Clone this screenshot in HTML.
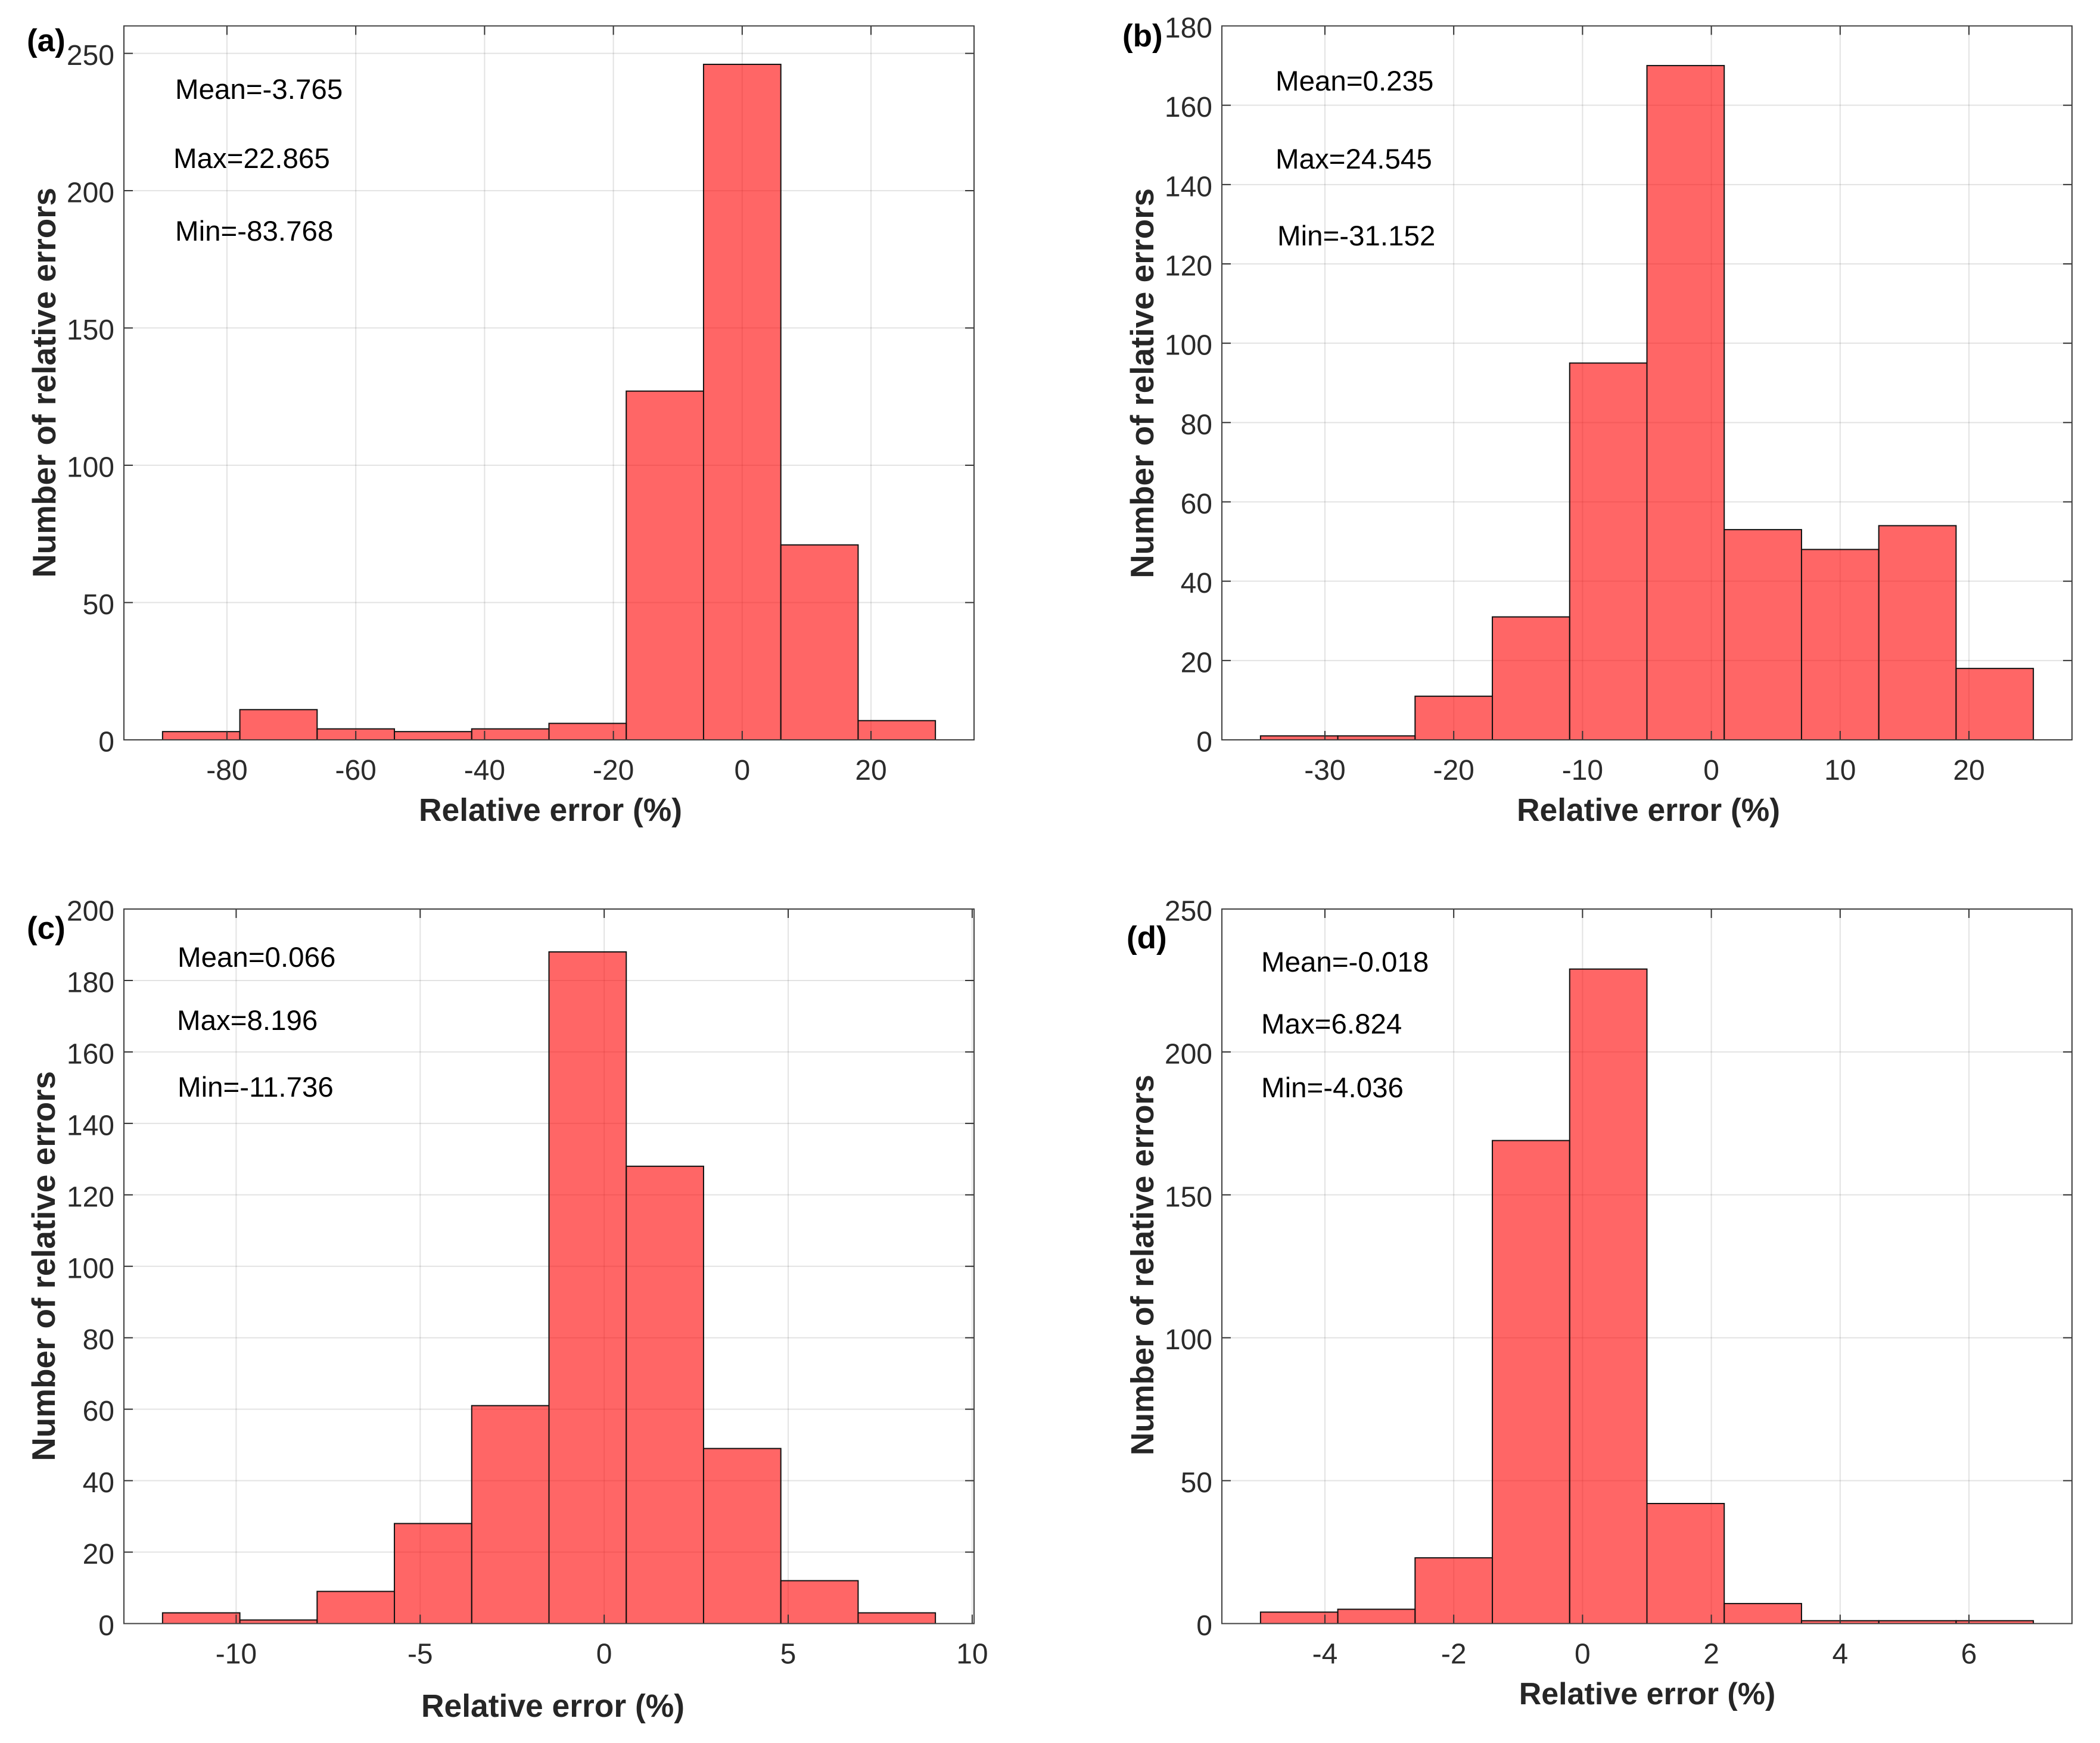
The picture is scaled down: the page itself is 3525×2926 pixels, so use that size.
<!DOCTYPE html>
<html lang="en">
<head>
<meta charset="utf-8">
<title>Histograms of relative errors</title>
<style>
  html, body { margin: 0; padding: 0; background: #fff; }
  #figure { display: block; width: 3525px; height: 2926px; font-family: "Liberation Sans", Arial, sans-serif; }
  .tick-label { font-size: 48px; fill: #2b2b2b; }
  .axis-title { font-size: 53.4px; font-weight: 700; fill: #262626; }
  .y-title { font-size: 54.8px; font-weight: 700; fill: #262626; text-anchor: end; }
  .stat { font-size: 47.5px; fill: #000; }
  .panel-label { font-size: 53px; font-weight: 700; fill: #000; }
</style>
</head>
<body>
<svg id="figure" xmlns="http://www.w3.org/2000/svg" width="3525" height="2926" viewBox="0 0 3525 2926">
  <rect x="0" y="0" width="3525" height="2926" fill="#ffffff"/>
  <g id="plots"></g>

  <text class="panel-label" x="45" y="86">(a)</text>
  <text class="stat" x="294" y="166">Mean=-3.765</text>
  <text class="stat" x="291" y="282">Max=22.865</text>
  <text class="stat" x="294" y="404">Min=-83.768</text>
  <text class="axis-title" x="924" y="1378" text-anchor="middle">Relative error (%)</text>
  <text class="y-title" transform="translate(93,315) rotate(-90)">Number of relative errors</text>

  <text class="panel-label" x="1884" y="78">(b)</text>
  <text class="stat" x="2141" y="152">Mean=0.235</text>
  <text class="stat" x="2141" y="283">Max=24.545</text>
  <text class="stat" x="2144" y="412">Min=-31.152</text>
  <text class="axis-title" x="2767" y="1378" text-anchor="middle">Relative error (%)</text>
  <text class="y-title" transform="translate(1936,316) rotate(-90)">Number of relative errors</text>

  <text class="panel-label" x="45" y="1576">(c)</text>
  <text class="stat" x="298" y="1623">Mean=0.066</text>
  <text class="stat" x="297" y="1729">Max=8.196</text>
  <text class="stat" x="298" y="1841">Min=-11.736</text>
  <text class="axis-title" x="928" y="2882" text-anchor="middle">Relative error (%)</text>
  <text class="y-title" transform="translate(92,1798) rotate(-90)">Number of relative errors</text>

  <text class="panel-label" x="1891" y="1592">(d)</text>
  <text class="stat" x="2117" y="1631">Mean=-0.018</text>
  <text class="stat" x="2117" y="1735">Max=6.824</text>
  <text class="stat" x="2117" y="1842">Min=-4.036</text>
  <text class="axis-title" style="font-size:52px" x="2765" y="2861" text-anchor="middle">Relative error (%)</text>
  <text class="y-title" style="font-size:53.5px" transform="translate(1936,1804) rotate(-90)">Number of relative errors</text>
</svg>
<script>
// Histogram counts per bin
const countsA = [3, 11, 4, 3, 4, 6, 127, 246, 71, 7];
const countsB = [1, 1, 11, 31, 95, 170, 53, 48, 54, 18];
const countsC = [3, 1, 9, 28, 61, 188, 128, 49, 12, 3];
const countsD = [4, 5, 23, 169, 229, 42, 7, 1, 1, 1];

// Bin edges: first edge and bin width, in percent
const binStartA = -90, binWidthA = 12;
const binStartB = -35, binWidthB = 6;
const binStartC = -12, binWidthC = 2.1;
const binStartD = -5, binWidthD = 1.2;

// Axis limits
const xLimA = [-96, 36];
const xLimB = [-38, 28];
const xLimC = [-13.05, 10.05];
const xLimD = [-5.6, 7.6];
const yLimA = [0, 260];
const yLimB = [0, 180];
const yLimC = [0, 200];
const yLimD = [0, 250];

// Tick labels
const xTicksA = [-80, -60, -40, -20, 0, 20];
const xTicksB = [-30, -20, -10, 0, 10, 20];
const xTicksC = [-10, -5, 0, 5, 10];
const xTicksD = [-4, -2, 0, 2, 4, 6];
const yTicksA = [0, 50, 100, 150, 200, 250];
const yTicksB = [0, 20, 40, 60, 80, 100, 120, 140, 160, 180];
const yTicksC = [0, 20, 40, 60, 80, 100, 120, 140, 160, 180, 200];
const yTicksD = [0, 50, 100, 150, 200, 250];

const SVG_NS = 'http://www.w3.org/2000/svg';
const TICK_LEN = 15;

function makeLine(parent, x1, y1, x2, y2, stroke, width) {
  const el = document.createElementNS(SVG_NS, 'line');
  el.setAttribute('x1', x1);
  el.setAttribute('y1', y1);
  el.setAttribute('x2', x2);
  el.setAttribute('y2', y2);
  el.setAttribute('stroke', stroke);
  el.setAttribute('stroke-width', width);
  parent.appendChild(el);
  return el;
}

function drawPanel(id, frame, counts, binStart, binWidth, xLim, yLim, xTicks, yTicks) {
  const root = document.getElementById('plots');
  const g = document.createElementNS(SVG_NS, 'g');
  
  
  root.appendChild(g);

  const xScale = v => frame.left + (v - xLim[0]) / (xLim[1] - xLim[0]) * (frame.right - frame.left);
  const yScale = v => frame.bottom - (v - yLim[0]) / (yLim[1] - yLim[0]) * (frame.bottom - frame.top);

  // Grid lines sit under the translucent bars
  xTicks.forEach(t => {
    const grid = makeLine(g, xScale(t), frame.top, xScale(t), frame.bottom, 'rgba(38,38,38,0.13)', 2);
    
    
  });
  yTicks.forEach(t => {
    const grid = makeLine(g, frame.left, yScale(t), frame.right, yScale(t), 'rgba(38,38,38,0.13)', 2);
    
    
  });

  // Bars
  counts.forEach((count, i) => {
    const x0 = xScale(binStart + i * binWidth);
    const x1 = xScale(binStart + (i + 1) * binWidth);
    const y0 = yScale(count);
    const bar = document.createElementNS(SVG_NS, 'rect');
    bar.setAttribute('x', x0);
    bar.setAttribute('y', y0);
    bar.setAttribute('width', x1 - x0);
    bar.setAttribute('height', yScale(0) - y0);
    bar.setAttribute('fill', 'rgba(255,0,0,0.6)');
    bar.setAttribute('stroke', '#111111');
    bar.setAttribute('stroke-width', 2);
    
    
    g.appendChild(bar);
  });

  // Ticks on all four sides (box on) and tick labels
  xTicks.forEach(t => {
    const x = xScale(t);
    const tickB = makeLine(g, x, frame.bottom, x, frame.bottom - TICK_LEN, '#333333', 2);
    
    
    const tickT = makeLine(g, x, frame.top, x, frame.top + TICK_LEN, '#333333', 2);
    
    
    const label = document.createElementNS(SVG_NS, 'text');
    label.setAttribute('class', 'tick-label');
    label.setAttribute('x', x);
    label.setAttribute('y', frame.bottom + 67);
    label.setAttribute('text-anchor', 'middle');
    
    
    label.textContent = t;
    g.appendChild(label);
  });
  yTicks.forEach(t => {
    const y = yScale(t);
    const tickL = makeLine(g, frame.left, y, frame.left + TICK_LEN, y, '#333333', 2);
    
    
    const tickR = makeLine(g, frame.right, y, frame.right - TICK_LEN, y, '#333333', 2);
    
    
    const label = document.createElementNS(SVG_NS, 'text');
    label.setAttribute('class', 'tick-label');
    label.setAttribute('x', frame.left - 16);
    label.setAttribute('y', y + 19.5);
    label.setAttribute('text-anchor', 'end');
    
    
    label.textContent = t;
    g.appendChild(label);
  });

  // Axes box
  const box = document.createElementNS(SVG_NS, 'rect');
  box.setAttribute('x', frame.left);
  box.setAttribute('y', frame.top);
  box.setAttribute('width', frame.right - frame.left);
  box.setAttribute('height', frame.bottom - frame.top);
  box.setAttribute('fill', 'none');
  box.setAttribute('stroke', '#404040');
  box.setAttribute('stroke-width', 2);
  
  
  g.appendChild(box);
}

drawPanel('a', { left: 208, right: 1635, top: 43.5, bottom: 1242 }, countsA, binStartA, binWidthA, xLimA, yLimA, xTicksA, yTicksA);
drawPanel('b', { left: 2051, right: 3478, top: 43.5, bottom: 1242 }, countsB, binStartB, binWidthB, xLimB, yLimB, xTicksB, yTicksB);
drawPanel('c', { left: 208, right: 1635, top: 1526, bottom: 2725.5 }, countsC, binStartC, binWidthC, xLimC, yLimC, xTicksC, yTicksC);
drawPanel('d', { left: 2051, right: 3478, top: 1526, bottom: 2725.5 }, countsD, binStartD, binWidthD, xLimD, yLimD, xTicksD, yTicksD);
</script>
</body>
</html>
